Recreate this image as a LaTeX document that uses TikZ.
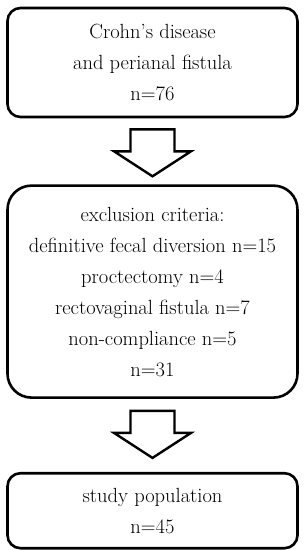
\documentclass[tikz,border=0pt]{standalone}
\usetikzlibrary{positioning,calc}

\begin{document}
\begin{tikzpicture}[
    x=1pt, y=1pt,
    flowbox/.style={draw, line width=2.6pt, rectangle, rounded corners=13pt, align=center,
        minimum width=290pt, inner sep=0pt, font=\fontsize{20.5}{31}\selectfont},
    arrowline/.style={draw, line width=2.4pt, line join=miter, fill=white},
    downarrow/.pic={
        \draw[arrowline] (-22,0) -- (22,0) -- (22,-22) -- (38.5,-22) -- (0,-47)
            -- (-38.5,-22) -- (-22,-22) -- cycle;
    }
]
\useasboundingbox (0,0) rectangle (305,-550);

\node[flowbox, minimum height=109pt] (cohort) at (152.5,-62.5)
    {Crohn’s disease\\and perianal fistula\\n=76};
\node[flowbox, minimum height=212pt, rounded corners=24pt, below=66pt of cohort] (exclusion)
    {exclusion criteria:\\definitive fecal diversion n=15\\proctectomy n=4\\rectovaginal fistula n=7\\non-compliance n=5\\n=31};
\node[flowbox, minimum height=75pt, below=73pt of exclusion] (study)
    {study population\\n=45};

% block arrows between the boxes
\pic at ($(cohort.south)+(0,-11)$) {downarrow};
\pic at ($(exclusion.south)+(0,-12)$) {downarrow};
\end{tikzpicture}
\end{document}
